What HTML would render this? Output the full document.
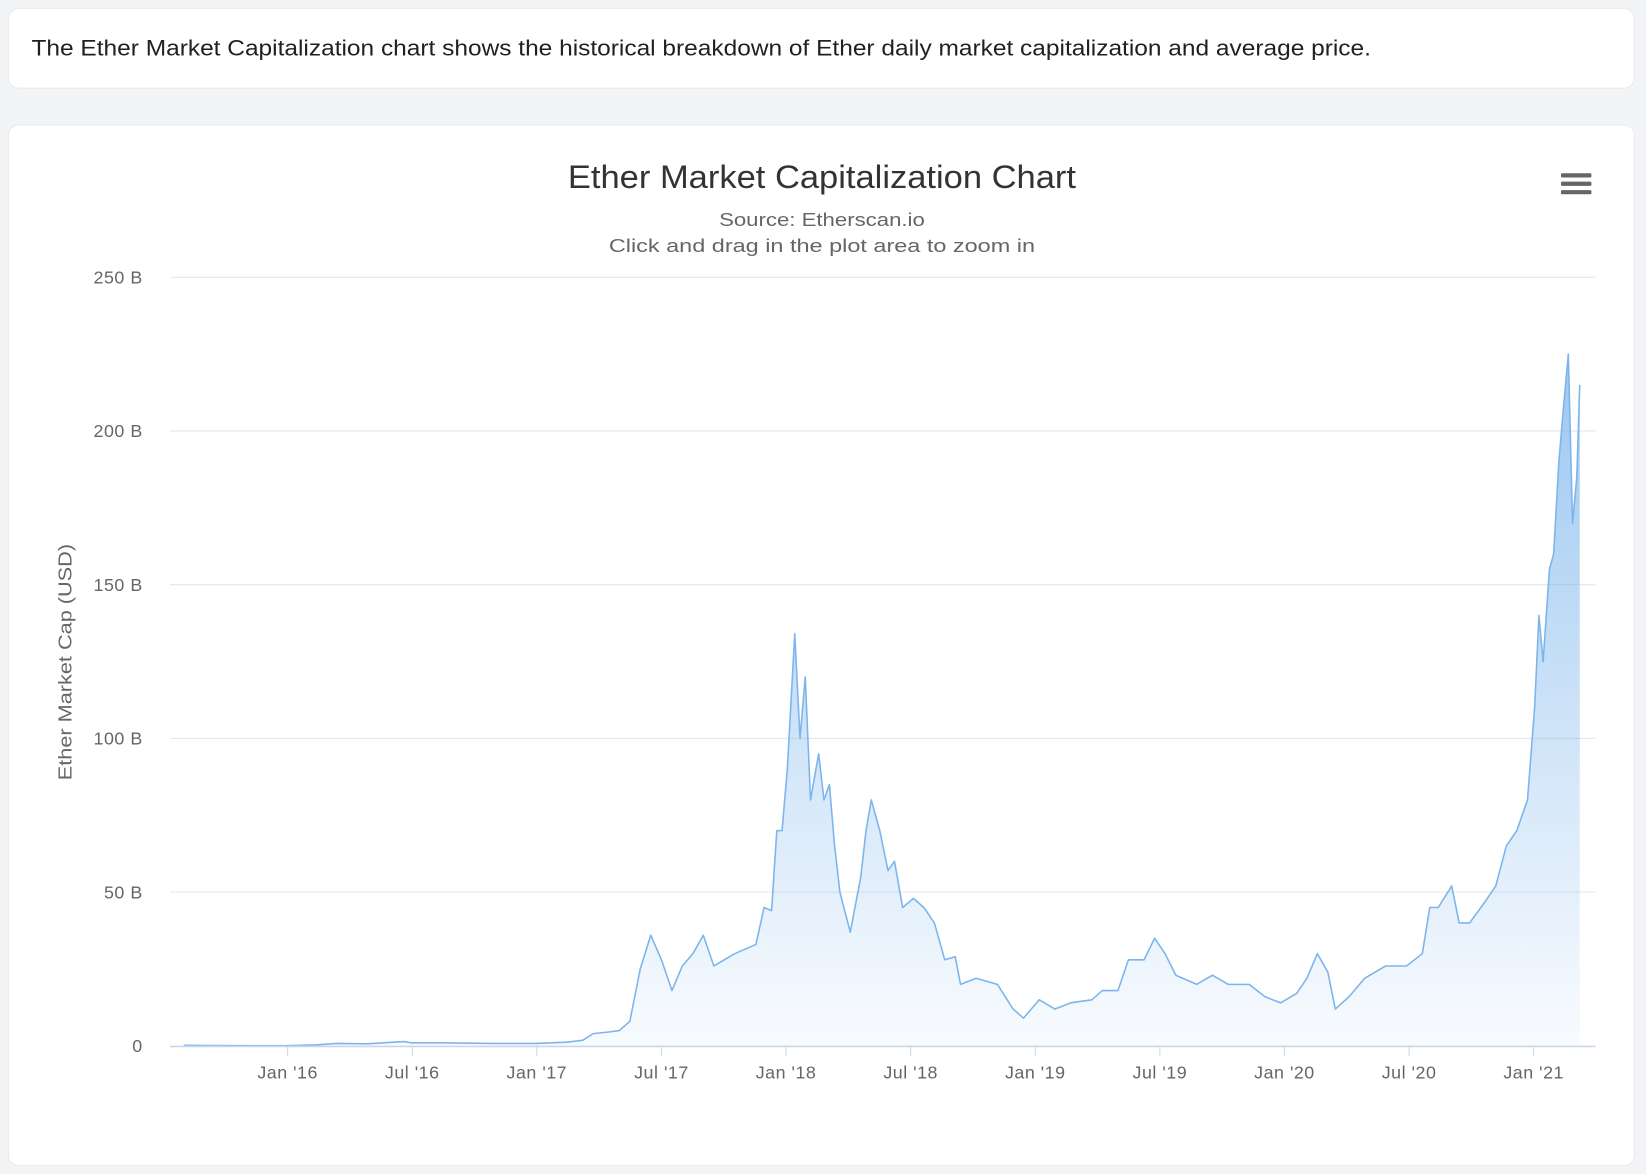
<!DOCTYPE html>
<html><head><meta charset="utf-8"><style>
html,body{margin:0;padding:0;background:#f3f4f6;}
svg{display:block;}
</style></head><body>
<svg id="root" width="1646" height="1174" viewBox="0 0 1568 1118" preserveAspectRatio="none" xmlns="http://www.w3.org/2000/svg" font-family="'Liberation Sans', 'DejaVu Sans', sans-serif">
<defs>
<linearGradient id="fillGrad" x1="0" y1="0" x2="0" y2="1">
<stop offset="0" stop-color="#7cb5ec" stop-opacity="0.75"/>
<stop offset="1" stop-color="#7cb5ec" stop-opacity="0.05"/>
</linearGradient>
</defs>
<rect x="0" y="0" width="1568" height="1118" fill="#f3f4f6"/>
<rect x="8" y="8" width="1549" height="76" rx="10" fill="#fff" stroke="#e7eaf0"/>
<text x="30" y="53" font-size="21" fill="#1e2022" textLength="1276" lengthAdjust="spacingAndGlyphs">The Ether Market Capitalization chart shows the historical breakdown of Ether daily market capitalization and average price.</text>
<rect x="8" y="119" width="1549" height="991" rx="10" fill="#fff" stroke="#e7eaf0"/>
<text x="541" y="179" font-size="31" fill="#333" textLength="484" lengthAdjust="spacingAndGlyphs">Ether Market Capitalization Chart</text>
<text x="685" y="215" font-size="18" fill="#666" textLength="196" lengthAdjust="spacingAndGlyphs">Source: Etherscan.io</text>
<text x="580" y="240" font-size="18" fill="#666" textLength="406" lengthAdjust="spacingAndGlyphs">Click and drag in the plot area to zoom in</text>
<g>
<rect x="1487" y="165" width="29" height="4" rx="1" fill="#666"/>
<rect x="1487" y="173" width="29" height="4" rx="1" fill="#666"/>
<rect x="1487" y="181" width="29" height="4" rx="1" fill="#666"/>
</g>
<text transform="translate(68,743) rotate(-90)" font-size="18" fill="#666" textLength="225" lengthAdjust="spacingAndGlyphs">Ether Market Cap (USD)</text>
<g id="grid"></g>
<g id="plot"></g>
<g id="xaxis"></g>
</svg>
<script>
const yTicks = [0, 50, 100, 150, 200, 250];
const yTickLabels = ['0', '50 B', '100 B', '150 B', '200 B', '250 B'];
const xTickYears = [2016, 2016.5, 2017, 2017.5, 2018, 2018.5, 2019, 2019.5, 2020, 2020.5, 2021];
const xTickLabels = ["Jan '16","Jul '16","Jan '17","Jul '17","Jan '18","Jul '18","Jan '19","Jul '19","Jan '20","Jul '20","Jan '21"];
const dates = [2015.583,2015.688,2016.0,2016.11,2016.194,2016.32,2016.468,2016.497,2016.615,2016.826,2017.0,2017.12,2017.184,2017.226,2017.289,2017.331,2017.373,2017.415,2017.457,2017.5,2017.542,2017.584,2017.626,2017.668,2017.71,2017.794,2017.879,2017.912,2017.942,2017.963,2017.984,2018.005,2018.035,2018.056,2018.077,2018.098,2018.131,2018.152,2018.174,2018.195,2018.216,2018.258,2018.3,2018.321,2018.342,2018.376,2018.409,2018.435,2018.468,2018.511,2018.553,2018.595,2018.637,2018.679,2018.7,2018.763,2018.848,2018.911,2018.953,2019.016,2019.079,2019.142,2019.227,2019.269,2019.332,2019.374,2019.437,2019.479,2019.521,2019.564,2019.648,2019.711,2019.774,2019.858,2019.922,2019.985,2020.048,2020.09,2020.132,2020.174,2020.204,2020.259,2020.322,2020.406,2020.49,2020.553,2020.583,2020.617,2020.671,2020.701,2020.743,2020.806,2020.848,2020.89,2020.932,2020.975,2021.004,2021.021,2021.038,2021.063,2021.08,2021.101,2021.122,2021.139,2021.156,2021.173,2021.185];
const marketCap = [0.2,0.1,0.07,0.3,0.8,0.7,1.4,1.0,1.0,0.8,0.8,1.2,1.8,4,4.5,5,8,25,36,28,18,26,30,36,26,30,33,45,44,70,70,90,134,100,120,80,95,80,85,65,50,37,55,70,80,70,57,60,45,48,45,40,28,29,20,22,20,12,9,15,12,14,15,18,18,28,28,35,30,23,20,23,20,20,16,14,17,22,30,24,12,16,22,26,26,30,45,45,52,40,40,47,52,65,70,80,110,140,125,155,160,190,210,225,170,185,215];

const NS='http://www.w3.org/2000/svg';
const X0=274, PXY=237.4, Y0=996, PXB=(996-264)/250;
const xScale=t=>X0+(t-2016)*PXY;
const yScale=v=>Y0-v*PXB;
function mk(tag,attrs,parent){const e=document.createElementNS(NS,tag);for(const k in attrs)e.setAttribute(k,attrs[k]);parent.appendChild(e);return e;}
const grid=document.getElementById('grid'), plot=document.getElementById('plot'), xa=document.getElementById('xaxis');
yTicks.forEach((v,i)=>{
  if(v>0){const l=mk('line',{x1:162,x2:1520,y1:yScale(v),y2:yScale(v),stroke:'#e6e6e6','stroke-width':1},grid);
  
  }
  const t=mk('text',{x:136,y:yScale(v)+6,'font-size':17,fill:'#666','text-anchor':'end','letter-spacing':'0.5'},grid);
  t.textContent=yTickLabels[i];
  
  
});
let pts=dates.map((d,i)=>[xScale(d),yScale(marketCap[i])]);
let dl='M'+pts.map(p=>p[0].toFixed(1)+','+p[1].toFixed(1)).join(' L');
const area=mk('path',{d:dl+` L${pts[pts.length-1][0].toFixed(1)},${Y0} L${pts[0][0].toFixed(1)},${Y0} Z`,fill:'url(#fillGrad)'},plot);


const line=mk('path',{d:dl,fill:'none',stroke:'#7cb5ec','stroke-width':1.5,'stroke-linejoin':'round'},plot);


const ax=mk('line',{x1:162,x2:1520,y1:Y0+0.5,y2:Y0+0.5,stroke:'#ccd6eb','stroke-width':1.5},xa);


xTickYears.forEach((t,i)=>{
  const x=xScale(t);
  const tk=mk('line',{x1:x,x2:x,y1:Y0,y2:Y0+10,stroke:'#ccd6eb','stroke-width':1},xa);
  
  
  const tx=mk('text',{x:x,y:1027,'font-size':17,fill:'#666','text-anchor':'middle','letter-spacing':'0.5'},xa);
  tx.textContent=xTickLabels[i];
  
  
});
</script>
</body></html>
